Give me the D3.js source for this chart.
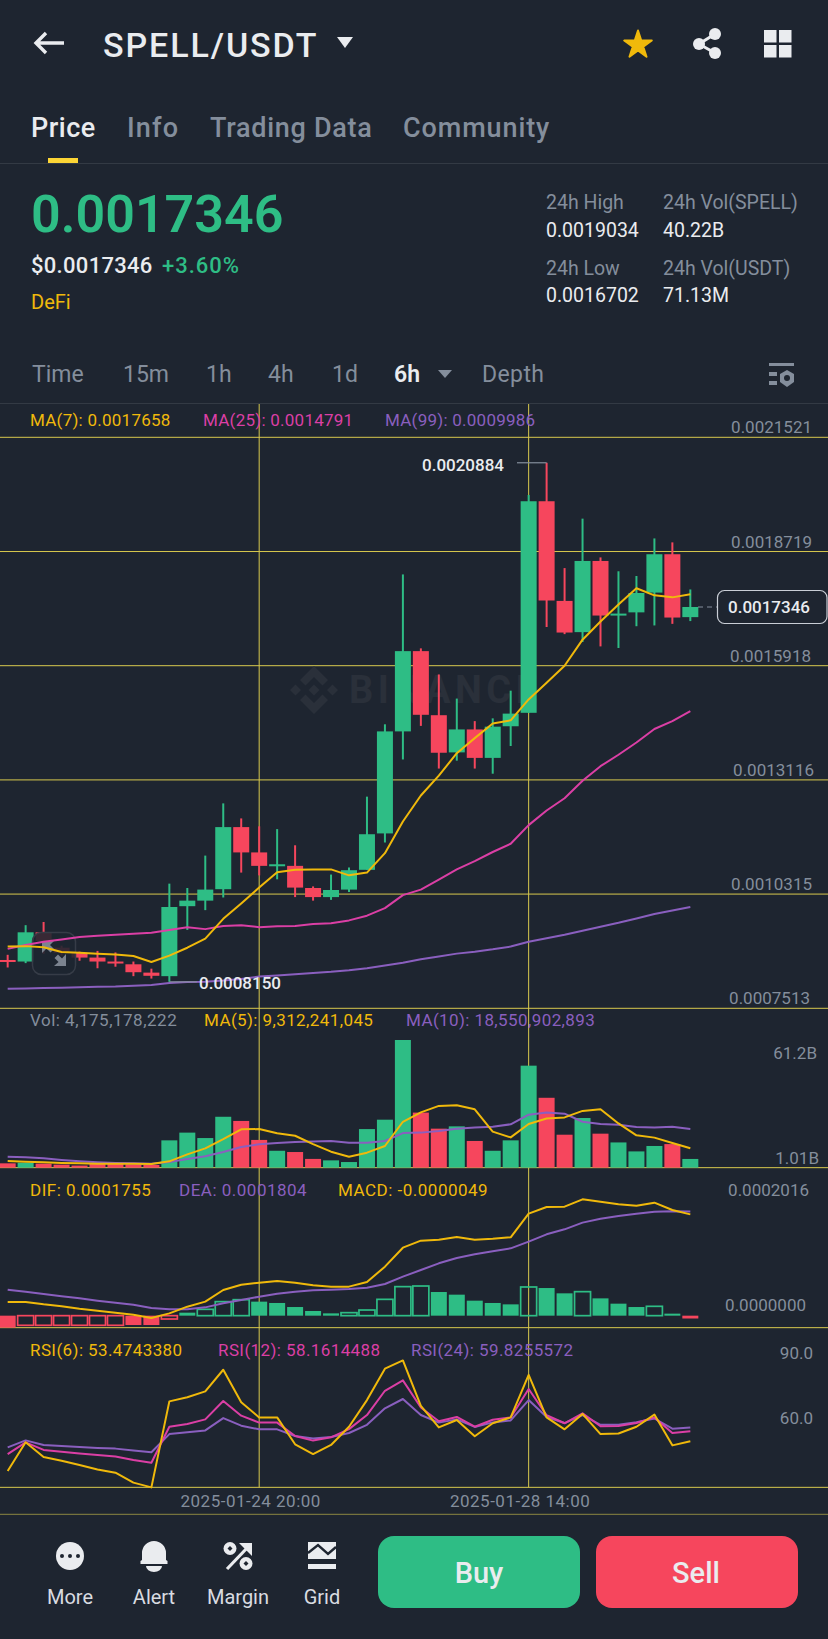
<!DOCTYPE html>
<html>
<head>
<meta charset="utf-8">
<script src="https://cdn.jsdelivr.net/npm/d3@7"></script>
<style>
  html, body { margin: 0; padding: 0; background: #1e2530; }
  svg { display: block; }
  text { font-family: Roboto, sans-serif; }
</style>
</head>
<body>
<script>
// candles
const opens = [0.0008686,0.0008648,0.0009365,0.0008987,0.0008861,0.0008745,0.0008648,0.0008580,0.0008376,0.0008289,0.0010006,0.0010142,0.0010423,0.0011946,0.0011325,0.0010995,0.0010995,0.0010452,0.0010229,0.0010413,0.0010898,0.0011791,0.0014294,0.0016263,0.0014691,0.0013779,0.0014342,0.0013644,0.0014420,0.0014750,0.0019940,0.0017495,0.0016729,0.0018475,0.0017146,0.0017214,0.0017699,0.0018640,0.0017097];
const closes = [0.0008648,0.0009365,0.0009152,0.0008861,0.0008745,0.0008648,0.0008609,0.0008386,0.0008298,0.0009986,0.0010142,0.0010413,0.0011946,0.0011325,0.0010995,0.0011034,0.0010462,0.0010229,0.0010403,0.0010889,0.0011771,0.0014294,0.0016263,0.0014701,0.0013770,0.0014342,0.0013644,0.0014410,0.0014730,0.0019940,0.0017505,0.0016719,0.0018475,0.0017136,0.0017184,0.0017689,0.0018640,0.0017087,0.0017346];
const highs = [0.0008813,0.0009540,0.0009618,0.0009036,0.0008890,0.0008909,0.0008871,0.0008648,0.0008473,0.0010559,0.0010452,0.0011247,0.0012528,0.0012159,0.0011965,0.0011897,0.0011500,0.0010491,0.0010782,0.0010956,0.0012693,0.0014468,0.0018145,0.0016331,0.0015691,0.0015099,0.0014546,0.0014614,0.0015293,0.0020095,0.0020884,0.0018300,0.0019513,0.0018562,0.0018222,0.0018106,0.0019028,0.0018931,0.0017776];
const lows = [0.0008502,0.0008609,0.0008841,0.0008793,0.0008667,0.0008483,0.0008521,0.0008289,0.0008230,0.0008150,0.0009424,0.0009909,0.0010219,0.0010830,0.0010762,0.0010665,0.0010229,0.0010142,0.0010161,0.0010355,0.0010898,0.0011568,0.0013605,0.0014429,0.0013382,0.0013576,0.0013382,0.0013256,0.0013935,0.0014750,0.0016855,0.0016680,0.0016486,0.0016379,0.0016340,0.0016874,0.0016893,0.0016932,0.0017000];

const ma7 = [0.0009016,0.0009026,0.0008997,0.0008880,0.0008861,0.0008842,0.0008822,0.0008783,0.0008638,0.0008793,0.0008987,0.0009210,0.0009695,0.0010073,0.0010462,0.0010840,0.0010898,0.0010908,0.0010908,0.0010762,0.0010830,0.0011306,0.0012082,0.0012722,0.0013207,0.0013760,0.0014129,0.0014487,0.0014565,0.0015079,0.0015487,0.0015904,0.0016544,0.0016990,0.0017408,0.0017805,0.0017631,0.0017582,0.0017658];
const ma25 = [0.0008958,0.0009055,0.0009133,0.0009191,0.0009249,0.0009278,0.0009307,0.0009327,0.0009356,0.0009424,0.0009491,0.0009443,0.0009521,0.0009540,0.0009491,0.0009511,0.0009521,0.0009569,0.0009589,0.0009657,0.0009773,0.0009957,0.0010277,0.0010413,0.0010655,0.0010908,0.0011112,0.0011335,0.0011538,0.0011995,0.0012353,0.0012654,0.0013081,0.0013440,0.0013721,0.0014022,0.0014352,0.0014546,0.0014791];
const ma99 = [0.0007978,0.0007988,0.0007998,0.0008007,0.0008017,0.0008027,0.0008036,0.0008056,0.0008075,0.0008124,0.0008143,0.0008153,0.0008182,0.0008221,0.0008279,0.0008308,0.0008337,0.0008366,0.0008395,0.0008434,0.0008483,0.0008550,0.0008619,0.0008706,0.0008774,0.0008842,0.0008890,0.0008948,0.0009016,0.0009133,0.0009220,0.0009307,0.0009405,0.0009502,0.0009598,0.0009705,0.0009812,0.0009899,0.0009986];

// volume, in billions
const volumes = [2.08,2.40,1.92,1.44,1.01,1.76,1.92,1.60,1.28,13.1,16.8,14.2,24.4,22.4,13.3,8.1,7.5,4.2,3.5,2.7,18.5,23.0,61.2,26.4,18.7,19.8,12.8,8.1,13.1,48.9,33.5,15.8,23.8,16.3,12.1,7.8,10.4,11.3,4.18];
const volMa5 = [3.2,2.88,2.56,2.24,2.08,1.92,1.92,1.92,1.76,3.04,6.39,9.27,13.7,18.4,18.5,16.5,15.3,11.3,7.67,5.27,7.19,10.4,22.0,26.5,29.6,29.9,28.0,17.3,14.5,20.9,23.6,24.1,27.2,28.0,21.2,15.5,14.4,11.8,9.31];
const volMa10 = [5.27,4.95,4.47,3.67,3.04,2.56,2.24,2.08,1.92,2.72,4.15,5.43,7.51,9.9,11.2,11.8,12.3,12.6,12.8,12.0,12.0,12.8,16.6,16.8,17.6,18.7,19.3,19.6,20.8,25.4,26.5,25.9,22.0,20.9,20.6,19.5,19.2,19.6,18.55];

// macd
const dif = [0.0000237,0.0000237,0.0000196,0.0000162,0.0000121,0.0000087,0.0000052,0.0000017,-0.0000040,0.0000040,0.0000156,0.0000243,0.0000445,0.0000537,0.0000572,0.0000601,0.0000572,0.0000526,0.0000503,0.0000503,0.0000583,0.0000849,0.0001178,0.0001300,0.0001317,0.0001363,0.0001317,0.0001334,0.0001358,0.0001768,0.0001883,0.0001889,0.0002016,0.0001976,0.0001930,0.0001906,0.0001958,0.0001831,0.0001755];
const dea = [0.0000451,0.0000416,0.0000376,0.0000335,0.0000300,0.0000260,0.0000225,0.0000191,0.0000133,0.0000110,0.0000110,0.0000144,0.0000214,0.0000272,0.0000329,0.0000381,0.0000416,0.0000439,0.0000451,0.0000462,0.0000485,0.0000549,0.0000676,0.0000791,0.0000907,0.0000999,0.0001063,0.0001115,0.0001167,0.0001283,0.0001410,0.0001496,0.0001612,0.0001681,0.0001727,0.0001768,0.0001802,0.0001808,0.0001804];
const macd = [-0.0000208,-0.0000167,-0.0000167,-0.0000167,-0.0000167,-0.0000167,-0.0000167,-0.0000162,-0.0000162,-0.0000058,0.0000052,0.0000110,0.0000243,0.0000277,0.0000243,0.0000220,0.0000150,0.0000081,0.0000040,0.0000052,0.0000098,0.0000283,0.0000503,0.0000514,0.0000410,0.0000364,0.0000260,0.0000220,0.0000196,0.0000497,0.0000479,0.0000387,0.0000416,0.0000300,0.0000208,0.0000150,0.0000162,0.0000035,-0.0000049];
const macdHollow = [1,2,3,4,5,6,9,11,12,13,19,20,21,22,23,29,32,36];

// rsi
const rsi6 = [39.8,53.0,46.2,44.5,42.5,40.5,39.0,34.4,32.2,71.9,73.8,76.5,86.5,71.5,64.5,64.5,52.1,47.6,51.8,60.2,72.5,87.0,90.8,69.8,59.9,63.3,55.8,61.8,64.5,84.1,64.5,59.0,66.1,56.8,57.1,60.2,65.8,51.6,53.47];
const rsi12 = [47.6,53.0,49.5,48.7,47.9,47.2,46.5,44.8,43.6,60.2,61.5,63.6,72.1,65.3,62.1,62.1,55.9,53.8,55.3,59.1,65.6,76.8,81.6,69.1,62.7,64.7,60.2,63.4,64.5,77.6,65.5,61.8,66.4,60.4,60.5,61.9,64.5,57.3,58.16];
const rsi24 = [50.7,53.9,51.8,51.3,50.8,50.4,50.1,49.2,48.4,56.8,57.6,58.5,64.2,60.7,59.0,59.0,55.9,54.8,55.5,57.3,61.1,68.7,73.0,65.6,62.1,63.6,60.1,62.2,63.1,72.5,64.7,61.9,65.6,61.1,61.1,62.3,64.0,59.3,59.83];

// axis ticks
const priceTicks = [0.0021521,0.0018719,0.0015918,0.0013116,0.0010315,0.0007513];
const volTicks = [61.2,1.01];
const macdTicks = [0.0002016,0];
const rsiTicks = [90,60];
const dateTicks = [14,29];
const dateLabels = ["2025-01-24 20:00","2025-01-28 14:00"];

const BG = "#1e2530";
const GREEN = "#2ebd85", RED = "#f6465d", YELLOW = "#f0b90b", PINK = "#db3fa5", PURPLE = "#8a5fbf";
const GREY = "#848e9c", WHITE = "#eaecef", GRID = "#d8c94e", MARK = "#2a303a";

const svg = d3.select("body").append("svg").attr("width", 828).attr("height", 1639);
svg.append("rect").attr("width", 828).attr("height", 1639).attr("fill", BG);

function label(str, x, y, size, fill, weight, anchor) {
  return svg.append("text").text(str).attr("x", x).attr("y", y)
    .attr("font-size", size).attr("fill", fill)
    .attr("font-weight", weight || 400).attr("text-anchor", anchor || "start");
}

function legend(str, x, y, fill, spacing) {
  label(str, x, y, 17, fill).attr("letter-spacing", spacing);
}

// scales
const x = d3.scaleLinear().domain([0, 38]).range([7.67, 690.33]);
const priceY = d3.scaleLinear().domain([0.0007513, 0.0021521]).range([1007.8, 436.8]);
const volY = d3.scaleLinear().domain([0, 61.2]).range([1167.67, 1040]);
const macdY = d3.scaleLinear().domain([0, 0.0002016]).range([1315.67, 1199.33]);
const rsiY = d3.scaleLinear().domain([60, 90]).range([1427.17, 1362.17]);
const idx = opens.map((d, i) => i);
const BAR = 16;

function drawLine(values, scale, color) {
  const line = d3.line().x((d, i) => x(i)).y(d => scale(d));
  svg.append("path").attr("d", line(values)).attr("fill", "none")
    .attr("stroke", color).attr("stroke-width", 2).attr("stroke-linejoin", "round");
}

function yAxis(scale, ticks, fmt, dy, xpos, dx) {
  const g = svg.append("g").attr("transform", `translate(${xpos},0)`)
    .call(d3.axisLeft(scale).tickValues(ticks).tickFormat(fmt).tickSize(0).tickPadding(0));
  g.select(".domain").remove();
  g.selectAll("text").attr("font-size", 17).attr("font-family", "Roboto, sans-serif")
    .attr("fill", GREY).attr("text-anchor", "end")
    .attr("dy", (d, i) => dy[i]).attr("dx", (d, i) => dx ? dx[i] : 0);
}

// grid
svg.append("g").call(d3.axisRight(priceY).tickValues(priceTicks).tickSize(828).tickFormat(""))
  .call(g => g.select(".domain").remove())
  .selectAll("line").attr("stroke", GRID).attr("stroke-width", 1);
[1167.67, 1327.67, 1487.33].forEach(y => {
  svg.append("line").attr("x1", 0).attr("x2", 828).attr("y1", y).attr("y2", y).attr("stroke", GRID).attr("stroke-width", 1);
});
svg.append("line").attr("x1", 0).attr("x2", 828).attr("y1", 1514.3).attr("y2", 1514.3).attr("stroke", GRID).attr("stroke-width", 0.8).attr("opacity", 0.75);
svg.selectAll("line.v").data(dateTicks).join("line").attr("class", "v")
  .attr("x1", d => x(d)).attr("x2", d => x(d)).attr("y1", 404).attr("y2", 1487.3)
  .attr("stroke", GRID).attr("stroke-width", 1);

// watermark
svg.append("path").attr("transform", "translate(314,690)")
  .attr("d", "M0 -24L14 -10L8.5 -4.5L0 -13L-8.5 -4.5L-14 -10ZM0 24L14 10L8.5 4.5L0 13L-8.5 4.5L-14 10ZM0 -5.5L5.5 0L0 5.5L-5.5 0ZM-24 0L-18.5 -5.5L-13 0L-18.5 5.5ZM24 0L18.5 -5.5L13 0L18.5 5.5Z")
  .attr("fill", MARK);
label("BINANCE", 349, 703, 38, MARK, 700).attr("letter-spacing", 4.5);

// candles
const candles = svg.append("g");
candles.selectAll("line").data(idx).join("line")
  .attr("x1", i => x(i)).attr("x2", i => x(i))
  .attr("y1", i => priceY(highs[i])).attr("y2", i => priceY(lows[i]))
  .attr("stroke", i => closes[i] >= opens[i] ? GREEN : RED).attr("stroke-width", 2);
candles.selectAll("rect").data(idx).join("rect")
  .attr("x", i => x(i) - BAR / 2).attr("width", BAR)
  .attr("y", i => priceY(Math.max(opens[i], closes[i])))
  .attr("height", i => Math.max(2, Math.abs(priceY(opens[i]) - priceY(closes[i]))))
  .attr("fill", i => closes[i] >= opens[i] ? GREEN : RED);

// zoom button sits over the candles, under the averages
svg.append("rect").attr("x", 32.5).attr("y", 932.5).attr("width", 43).attr("height", 42).attr("rx", 9)
  .attr("fill", BG).attr("fill-opacity", 0.88).attr("stroke", "#363c47").attr("stroke-width", 1.5);
svg.append("path").attr("d", "M42 941H54L50 945L54 949L50.5 952.5L46.5 948.5L42 953ZM66 966H54L58.5 962L54.5 958L58 954.5L62 958.5L66 954Z").attr("fill", "#7b838f");

drawLine(ma99, priceY, PURPLE);
drawLine(ma25, priceY, PINK);
drawLine(ma7, priceY, YELLOW);

// hi/lo markers
svg.append("path").attr("d", `M517 ${priceY(highs[30])}H${x(30)}`).attr("stroke", GREY).attr("stroke-width", 1.2).attr("fill", "none");
label(d3.format(".7f")(highs[30]), 422, 470.5, 17, WHITE, 500);
svg.append("path").attr("d", `M${x(9)} ${priceY(lows[9])}H197`).attr("stroke", GREY).attr("stroke-width", 1.2).attr("fill", "none");
label(d3.format(".7f")(lows[9]), 199, 989, 17, WHITE, 500);

// last price tag
svg.append("path").attr("d", `M698 ${priceY(closes[38])}H717`).attr("stroke", GREY).attr("stroke-width", 1.2).attr("stroke-dasharray", "5 4");
svg.append("rect").attr("x", 717.5).attr("y", 590.5).attr("width", 109.5).attr("height", 33).attr("rx", 7)
  .attr("fill", BG).attr("stroke", "#c9ced6").attr("stroke-width", 1.2);
label(d3.format(".7f")(closes[38]), 728, 613, 17, WHITE, 500);

// volume
svg.append("g").selectAll("rect").data(idx).join("rect")
  .attr("x", i => x(i) - BAR / 2).attr("width", BAR)
  .attr("y", i => volY(volumes[i])).attr("height", i => volY(0) - volY(volumes[i]))
  .attr("fill", i => closes[i] >= opens[i] ? GREEN : RED);
drawLine(volMa10, volY, PURPLE);
drawLine(volMa5, volY, YELLOW);

// macd
const bars = svg.append("g");
bars.selectAll("rect").data(idx).join("rect")
  .each(function (i) {
    const hollow = macdHollow.includes(i);
    const top = macdY(Math.max(macd[i], 0)), bottom = macdY(Math.min(macd[i], 0));
    const color = macd[i] >= 0 ? GREEN : RED;
    d3.select(this)
      .attr("x", x(i) - BAR / 2).attr("width", BAR)
      .attr("y", top).attr("height", Math.max(bottom - top, 1.5))
      .attr("fill", hollow ? "none" : color)
      .attr("stroke", hollow ? color : "none").attr("stroke-width", 1.7);
  });
drawLine(dea, macdY, PURPLE);
drawLine(dif, macdY, YELLOW);

// rsi
drawLine(rsi24, rsiY, PURPLE);
drawLine(rsi12, rsiY, PINK);
drawLine(rsi6, rsiY, YELLOW);

// axes
yAxis(priceY, priceTicks, d3.format(".7f"), [-4, -4, -4, -4, -4, -4], 812, [0, 0, -1, 2, 0, -2]);
yAxis(macdY, macdTicks, d3.format(".7f"), [-4, -5], 809, [0, -3]);
yAxis(rsiY, rsiTicks, d3.format(".1f"), [-4, -4], 813);
yAxis(volY, volTicks, d => d + "B", [18, -2], 817, [0, 2]);

const dateAxis = svg.append("g").attr("transform", "translate(-9,1487.33)")
  .call(d3.axisBottom(x).tickValues(dateTicks).tickFormat((d, i) => dateLabels[i]).tickSize(0).tickPadding(8));
dateAxis.select(".domain").remove();
dateAxis.selectAll("text").attr("font-size", 17).attr("font-family", "Roboto, sans-serif")
  .attr("fill", GREY).attr("letter-spacing", 0.5).attr("dy", "0.71em");

// legends
legend("MA(7): 0.0017658", 30, 426, YELLOW, 0.25);
legend("MA(25): 0.0014791", 203, 426, PINK, 0.25);
legend("MA(99): 0.0009986", 385, 426, PURPLE, 0.25);
legend("Vol: 4,175,178,222", 30, 1025.5, GREY, 0.5);
legend("MA(5): 9,312,241,045", 204, 1025.5, YELLOW, 0.4);
legend("MA(10): 18,550,902,893", 406, 1025.5, PURPLE, 0.4);
legend("DIF: 0.0001755", 30, 1195.5, YELLOW, 0.5);
legend("DEA: 0.0001804", 179, 1195.5, PURPLE, 0.5);
legend("MACD: -0.0000049", 338, 1195.5, YELLOW, 0.5);
legend("RSI(6): 53.4743380", 30, 1355.5, YELLOW, 0.4);
legend("RSI(12): 58.1614488", 218, 1355.5, PINK, 0.4);
legend("RSI(24): 59.8255572", 411, 1355.5, PURPLE, 0.4);

// header
svg.append("path").attr("d", "M64 43H37M46 33L36 43L46 53").attr("fill", "none").attr("stroke", WHITE).attr("stroke-width", 3.4);
label("SPELL/USDT", 103, 56.5, 34, WHITE, 500).attr("letter-spacing", 1.9);
svg.append("path").attr("d", "M337 37H353L345 48Z").attr("fill", WHITE);
svg.append("path").attr("d", d3.symbol(d3.symbolStar, 236)()).attr("transform", "translate(638,45)")
  .attr("fill", YELLOW).attr("stroke", YELLOW).attr("stroke-width", 2).attr("stroke-linejoin", "round");
svg.append("path").attr("d", "M715 34L699 44L715 53").attr("fill", "none").attr("stroke", WHITE).attr("stroke-width", 3);
[[715, 34], [699, 44], [715, 53]].forEach(c => {
  svg.append("circle").attr("cx", c[0]).attr("cy", c[1]).attr("r", 6).attr("fill", WHITE);
});
[[764, 30], [779, 30], [764, 45], [779, 45]].forEach(c => {
  svg.append("rect").attr("x", c[0]).attr("y", c[1]).attr("width", 12.5).attr("height", 12.5).attr("fill", WHITE);
});

// tabs
label("Price", 31, 137, 27, WHITE, 500).attr("letter-spacing", 0.5);
label("Info", 127, 137, 27, GREY, 500).attr("letter-spacing", 1.2);
label("Trading Data", 210, 137, 27, GREY, 500).attr("letter-spacing", 0.7);
label("Community", 403, 137, 27, GREY, 500).attr("letter-spacing", 0.9);
svg.append("rect").attr("x", 48).attr("y", 158).attr("width", 30).attr("height", 5).attr("fill", "#fcd535");
svg.append("rect").attr("x", 0).attr("y", 163).attr("width", 828).attr("height", 1).attr("fill", "#333a44");

// price block
label("0.0017346", 31, 232, 52, GREEN, 600);
label("$0.0017346", 31, 272.5, 22, WHITE, 500).attr("letter-spacing", 0.3);
label("+3.60%", 162, 272.5, 22, GREEN, 500).attr("letter-spacing", 1);
label("DeFi", 31, 308.5, 20, YELLOW, 400);
label("24h High", 546, 209, 19.5, GREY);
label("0.0019034", 546, 236.5, 19.5, WHITE);
label("24h Low", 546, 275, 19.5, GREY);
label("0.0016702", 546, 302, 19.5, WHITE);
label("24h Vol(SPELL)", 663, 209, 19.5, GREY);
label("40.22B", 663, 236.5, 19.5, WHITE);
label("24h Vol(USDT)", 663, 275, 19.5, GREY);
label("71.13M", 663, 302, 19.5, WHITE);

// interval row
label("Time", 32, 382, 23, GREY);
label("15m", 123, 382, 23, GREY);
label("1h", 206, 382, 23, GREY);
label("4h", 268, 382, 23, GREY);
label("1d", 332, 382, 23, GREY);
label("6h", 394, 382, 23, WHITE, 600);
svg.append("path").attr("d", "M438 370H452L445 378Z").attr("fill", GREY);
label("Depth", 482, 382, 23, GREY).attr("letter-spacing", 0.4);
svg.append("path").attr("d", "M769 363H794V366H769ZM769 372H777V376H769ZM769 381H777V385H769Z").attr("fill", GREY);
svg.append("path").attr("d", "M787 370L794 374V382L787 387L780 382V374Z").attr("fill", GREY);
svg.append("circle").attr("cx", 787).attr("cy", 378).attr("r", 3).attr("fill", BG);
svg.append("rect").attr("x", 0).attr("y", 403).attr("width", 828).attr("height", 1).attr("fill", "#333a44");

// bottom bar
svg.append("circle").attr("cx", 70).attr("cy", 1556).attr("r", 14).attr("fill", WHITE);
[62, 70, 78].forEach(cx => svg.append("circle").attr("cx", cx).attr("cy", 1556).attr("r", 2).attr("fill", BG));
svg.append("path").attr("d", "M142 1560V1553A12 12 0 0 1 166 1553V1560L167.5 1561V1564H140.5V1561ZM146 1566H162A8 6 0 0 1 146 1566Z").attr("fill", WHITE);
svg.append("path").attr("d", "M227 1569L248 1547").attr("fill", "none").attr("stroke", WHITE).attr("stroke-width", 3.2);
svg.append("path").attr("d", "M239 1543H252V1556Z").attr("fill", WHITE);
[[230, 1548.5], [246, 1563.5]].forEach(c => {
  svg.append("circle").attr("cx", c[0]).attr("cy", c[1]).attr("r", 6.5).attr("fill", WHITE);
  svg.append("path").attr("d", `M${c[0]} ${c[1] - 2.5}l2.5 2.5l-2.5 2.5l-2.5 -2.5Z`).attr("fill", BG);
});
svg.append("path").attr("d", "M308 1542H336V1559H308ZM308 1564H336V1569H308Z").attr("fill", WHITE);
svg.append("path").attr("d", "M308 1553L318 1545L328 1554L336 1547").attr("fill", "none").attr("stroke", BG).attr("stroke-width", 2.4);
label("More", 70, 1604, 20, "#d9dce1", 400, "middle");
label("Alert", 154, 1604, 20, "#d9dce1", 400, "middle");
label("Margin", 238, 1604, 20, "#d9dce1", 400, "middle");
label("Grid", 322, 1604, 20, "#d9dce1", 400, "middle");
svg.append("rect").attr("x", 378).attr("y", 1536).attr("width", 202).attr("height", 72).attr("rx", 16).attr("fill", GREEN);
svg.append("rect").attr("x", 596).attr("y", 1536).attr("width", 202).attr("height", 72).attr("rx", 16).attr("fill", RED);
label("Buy", 479, 1583, 29, WHITE, 500, "middle");
label("Sell", 696, 1583, 29, WHITE, 500, "middle");
</script>
</body>
</html>
